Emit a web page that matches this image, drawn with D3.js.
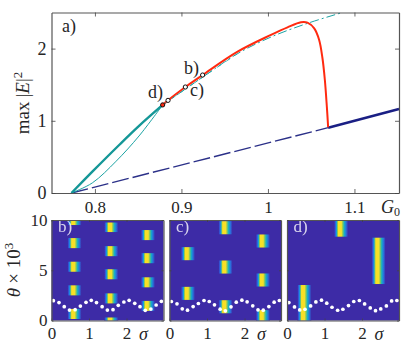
<!DOCTYPE html>
<html>
<head>
<meta charset="utf-8">
<script src="https://cdnjs.cloudflare.com/ajax/libs/d3/7.8.5/d3.min.js"></script>
<style>
html, body { margin: 0; padding: 0; background: #fff; }
svg { display: block; }
text { font-family: "Liberation Serif", serif; fill: #262626; }
</style>
</head>
<body>
<script>
// branch, [G0, max|E|^2]
var tealThick = [[0.7729,0],[0.797,0.295],[0.828,0.665],[0.851,0.93],[0.8783,1.22]]
var tealThin = [[0.7729,0],[0.797,0.14],[0.8245,0.44],[0.851,0.79],[0.8783,1.22]]
var tealDash = [[0.8783,1.22],[0.9264,1.62],[0.9649,1.93],[1.0035,2.16],[1.0457,2.35],[1.0861,2.5]]
var redCurve = [[0.8783,1.22],[0.8845,1.283],[0.9045,1.468],[0.9245,1.634],[0.9649,1.957],[1.0035,2.19],[1.0226,2.295],[1.0381,2.365],[1.0457,2.36],[1.0535,2.28],[1.0592,2.12],[1.063,1.87],[1.0658,1.565],[1.0681,1.195],[1.0696,0.91]]
var blueDash = [[0.7729,0],[1.0696,0.905]]
var blueThick = [[1.0696,0.905],[1.1515,1.163]]
var markers = [[0.8845,1.283],[0.9045,1.468],[0.9245,1.634]]
var markerD = [0.8783,1.22]
var topLabels = [["a)",62,32],["b)",184,74],["c)",190,96],["d)",148,98]]
var gTicks = [0.8,0.9,1,1.1]
var eTicks = [0,1,2]

// heat stripes, [sigma, theta from, theta to]
var stripesB = [[0.58,9.5,10.1],[0.58,7.2,8.2],[0.58,4.85,5.85],[0.58,2.5,3.5],[0.58,0.15,1.15],
	[1.56,8.8,9.75],[1.56,6.4,7.4],[1.56,4.1,5.1],[1.56,1.7,2.7],[1.56,-0.2,0.3],
	[2.54,8,9],[2.54,5.7,6.7],[2.54,3.3,4.3],[2.54,0.95,1.95]]
var stripesC = [[0.46,9.9,10.1],[0.46,6,7.3],[0.46,2.05,3.35],
	[1.46,8.58,9.88],[1.46,4.67,5.97],[1.46,0.72,2.02],
	[2.46,7.26,8.56],[2.46,3.38,4.68],[2.46,-0.27,1.03]]
var stripesD = [[0.43,-0.1,3.53],[1.41,8.34,10.1],[2.41,3.63,8.24]]

var dotSigma = [0.05,0.2,0.34,0.48,0.63,0.77,0.92,1.06,1.2,1.35,1.49,1.64,1.78,1.93,2.07,2.22,2.36,2.5,2.65,2.79,2.93]
var dotsB = [1.97,1.78,1.38,1.04,1.08,1.44,1.81,2.01,1.78,1.38,1.04,1.08,1.51,1.84,2.01,1.71,1.38,1.01,1.14,1.54,1.91]
var dotsC = [1.89,1.66,1.16,1.03,1.39,1.69,1.99,1.89,1.56,1.13,0.96,1.36,1.82,2.02,1.86,1.46,1.06,1.03,1.39,1.82,1.99]
var dotsD = [1.78,1.35,1.05,1.12,1.45,1.85,2.02,1.72,1.32,1.02,1.12,1.49,1.89,1.99,1.65,1.25,0.98,1.15,1.45,1.95,1.99]

var sigmaTicks = [0,1,2]
var thetaTicks = [0,5,10]

var svg = d3.select("body").append("svg")
	.attr("width", 415)
	.attr("height", 342)

var defs = svg.append("defs")

// parula across one stripe
var stripeGrad = defs.append("linearGradient").attr("id","stripe")
var stripeStops = [[0,"#3d2ba6"],[0.1,"#2f5fe0"],[0.18,"#14a5d8"],[0.25,"#90c850"],[0.3,"#fbe022"],[0.52,"#f5e02a"],[0.62,"#80c860"],[0.73,"#12b0c8"],[0.86,"#2a70dc"],[1,"#3d2ba6"]]
stripeGrad.selectAll("stop").data(stripeStops).enter().append("stop")
	.attr("offset", function(d){return d[0]})
	.attr("stop-color", function(d){return d[1]})

defs.append("filter").attr("id","soft")
	.attr("x","-20%").attr("y","-20%").attr("width","140%").attr("height","140%")
	.append("feGaussianBlur").attr("stdDeviation","0.3 0.7")

var x = d3.scaleLinear().domain([0.7498,1.1515]).range([51.5,399])
var y = d3.scaleLinear().domain([0,2.5]).range([193,12.5])
var smooth = d3.line().x(function(d){return x(d[0])}).y(function(d){return y(d[1])}).curve(d3.curveCatmullRom)
var line = d3.line().x(function(d){return x(d[0])}).y(function(d){return y(d[1])})

var top_ = svg.append("g").attr("id","top")

top_.append("path").datum(blueDash).attr("d",line).attr("fill","none")
	.attr("stroke","#2b3088").attr("stroke-width",1.4).attr("stroke-dasharray","17 4")
top_.append("path").datum(blueThick).attr("d",line).attr("fill","none")
	.attr("stroke","#1a1f84").attr("stroke-width",2.6)
top_.append("path").datum(tealThin).attr("d",smooth).attr("fill","none")
	.attr("stroke","#1ba3a3").attr("stroke-width",1)
top_.append("path").datum(tealThick).attr("d",smooth).attr("fill","none")
	.attr("stroke","#149797").attr("stroke-width",2.4)
top_.append("path").datum(tealDash).attr("d",smooth).attr("fill","none")
	.attr("stroke","#1ba3a3").attr("stroke-width",1).attr("stroke-dasharray","9 3 2 3")
top_.append("path").datum(redCurve).attr("d",smooth)
	.attr("fill","none").attr("stroke","#ff2a10").attr("stroke-width",2)
top_.append("path").datum(tealDash.slice(0,3)).attr("d",smooth).attr("fill","none")
	.attr("stroke","#1ba3a3").attr("stroke-width",0.8).attr("stroke-dasharray","5 6")

top_.selectAll(".mark").data(markers).enter().append("circle")
	.attr("class","mark")
	.attr("cx",function(d){return x(d[0])})
	.attr("cy",function(d){return y(d[1])})
	.attr("r",2.1).attr("fill","#fff").attr("stroke","#111").attr("stroke-width",1)
top_.append("circle").attr("cx",x(markerD[0])).attr("cy",y(markerD[1]))
	.attr("r",2.1).attr("fill","#ff2a10").attr("stroke","#111").attr("stroke-width",1)

function styleAxis(g, size) {
	g.selectAll("path").attr("stroke","#555").attr("stroke-width",1.2)
	g.selectAll("line").attr("stroke","#444").attr("stroke-width",0.8)
	g.selectAll("text").style("font-size",size+"px").style("font-family","'Liberation Serif', serif").attr("fill","#262626")
}

top_.append("g").attr("transform","translate(0,193)")
	.call(d3.axisBottom(x).tickValues(gTicks).tickSize(-4).tickSizeOuter(0).tickPadding(8).tickFormat(function(d){return d}))
	.call(styleAxis,17)
top_.append("g").attr("transform","translate(0,12.5)")
	.call(d3.axisTop(x).tickValues(gTicks).tickSize(-4).tickSizeOuter(0).tickFormat(""))
	.call(styleAxis,17)
top_.append("g").attr("transform","translate(51.5,0)")
	.call(d3.axisLeft(y).tickValues(eTicks).tickSize(-4).tickSizeOuter(0).tickPadding(5).tickFormat(function(d){return d}))
	.call(styleAxis,18)
top_.append("g").attr("transform","translate(399,0)")
	.call(d3.axisRight(y).tickValues(eTicks).tickSize(-4).tickSizeOuter(0).tickFormat(""))
	.call(styleAxis,18)

top_.selectAll(".lab").data(topLabels).enter().append("text")
	.attr("class","lab")
	.attr("x",function(d){return d[1]})
	.attr("y",function(d){return d[2]})
	.style("font-size","18px")
	.text(function(d){return d[0]})

var g0 = svg.append("text").attr("x",381).attr("y",213).style("font-size","18px")
g0.append("tspan").style("font-style","italic").text("G")
g0.append("tspan").attr("dy",3).style("font-size","12px").text("0")

var yl = svg.append("text").attr("transform","translate(29,103) rotate(-90)")
	.attr("text-anchor","middle").style("font-size","19px")
yl.append("tspan").text("max")
yl.append("tspan").attr("dx",4).text("|")
yl.append("tspan").style("font-style","italic").text("E")
yl.append("tspan").text("|")
yl.append("tspan").attr("dy",-7).style("font-size","13px").text("2")

var yl2 = svg.append("text").attr("transform","translate(20,270) rotate(-90)")
	.attr("text-anchor","middle").style("font-size","19px")
yl2.append("tspan").style("font-style","italic").text("θ")
yl2.append("tspan").attr("dx",4).text("× 10")
yl2.append("tspan").attr("dy",-7).style("font-size","13px").text("3")

var thetaY = d3.scaleLinear().domain([0,10]).range([320.5,220])

function heatPanel(id, left, right, stripes, dots, label) {
	var sx = d3.scaleLinear().domain([0,(right-left)/37.5]).range([left,right])
	var p = svg.append("g").attr("id",id)
	defs.append("clipPath").attr("id","clip-"+id).append("rect")
		.attr("x",left).attr("y",220).attr("width",right-left).attr("height",100.5)
	p.append("rect").attr("x",left).attr("y",220).attr("width",right-left).attr("height",100.5).attr("fill","#3d2ba6")

	var inner = p.append("g").attr("clip-path","url(#clip-"+id+")")
	inner.selectAll("rect").data(stripes).enter().append("rect")
		.attr("x",function(d){return sx(d[0])-5.8})
		.attr("width",14)
		.attr("y",function(d){return thetaY(d[2])})
		.attr("height",function(d){return thetaY(d[1])-thetaY(d[2])})
		.attr("fill","url(#stripe)")
		.attr("filter","url(#soft)")
	inner.selectAll("circle").data(dots).enter().append("circle")
		.attr("cx",function(d,i){return sx(dotSigma[i])})
		.attr("cy",function(d){return thetaY(d)})
		.attr("r",1.85).attr("fill","#fff")

	p.append("text").attr("x",left+6.5).attr("y",232).style("font-size","17px")
		.style("fill","#fff").attr("opacity",0.8).text(label)

	p.append("g").attr("transform","translate(0,320.5)")
		.call(d3.axisBottom(sx).tickValues(sigmaTicks).tickSize(-2).tickSizeOuter(0).tickPadding(6).tickFormat(function(d){return d}))
		.call(styleAxis,17)
	p.append("g").attr("transform","translate(0,220)")
		.call(d3.axisTop(sx).tickValues(sigmaTicks).tickSize(-2).tickSizeOuter(0).tickFormat(""))
		.call(styleAxis,17)
	p.append("g").attr("transform","translate("+left+",0)")
		.call(d3.axisLeft(thetaY).tickValues(thetaTicks).tickSize(-2).tickSizeOuter(0).tickPadding(4).tickFormat(id=="pb"?function(d){return d}:""))
		.call(styleAxis,17)
	p.append("g").attr("transform","translate("+right+",0)")
		.call(d3.axisRight(thetaY).tickValues(thetaTicks).tickSize(-2).tickSizeOuter(0).tickFormat(""))
		.call(styleAxis,17)

	p.append("text").attr("x",left+92).attr("y",339.5).attr("text-anchor","middle")
		.style("font-size","18px").style("font-style","italic").text("σ")
}

heatPanel("pb",51.5,163.5,stripesB,dotsB,"b)")
heatPanel("pc",169.5,281,stripesC,dotsC,"c)")
heatPanel("pd",287,399,stripesD,dotsD,"d)")
</script>
</body>
</html>
